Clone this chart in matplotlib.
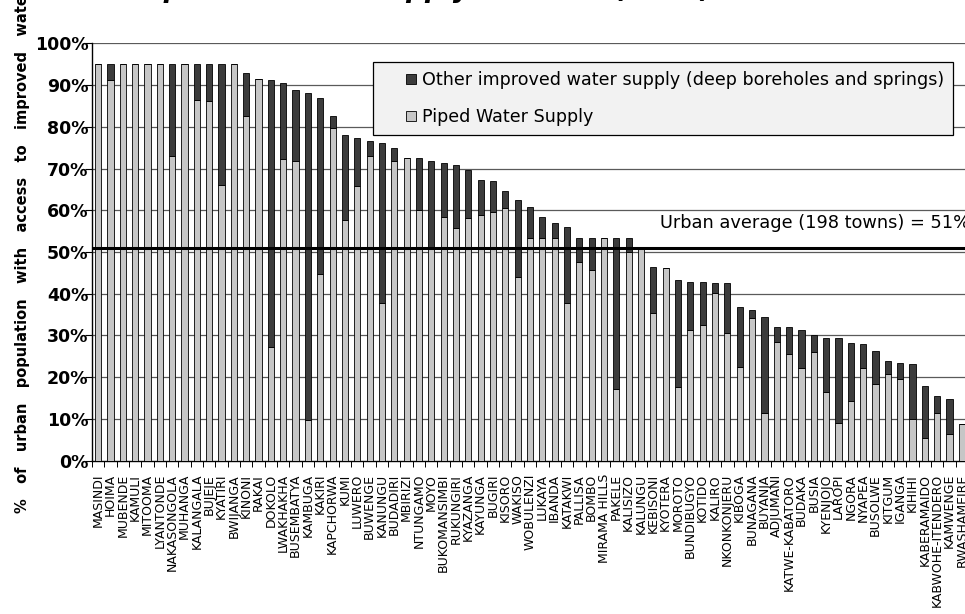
import matplotlib
matplotlib.use("Agg")
import matplotlib.pyplot as plt
from matplotlib.patches import Rectangle
from matplotlib.legend_handler import HandlerPatch
import numpy as np

towns = ["MASINDI", "HOIMA", "MUBENDE", "KAMULI", "MITOOMA", "LYANTONDE",
         "NAKASONGOLA", "MUHANGA", "KALANGALA", "BUJEJE", "KYATIRI", "BWIJANGA",
         "KINONI", "RAKAI", "DOKOLO", "LWAKHAKHA", "BUSEMBATYA", "KAMBUGA",
         "KAKIRI", "KAPCHORWA", "KUMI", "LUWERO", "BUWENGE", "KANUNGU",
         "BUDADIRI", "MBIRIZI", "NTUNGAMO", "MOYO", "BUKOMANSIMBI", "RUKUNGIRI",
         "KYAZANGA", "KAYUNGA", "BUGIRI", "KISORO", "WAKISO", "WOBULENZI",
         "LUKAYA", "IBANDA", "KATAKWI", "PALLISA", "BOMBO", "MIRAMA HILLS",
         "PAKELE", "KALISIZO", "KALUNGU", "KEBISONI", "KYOTERA", "MOROTO",
         "BUNDIBUGYO", "KOTIDO", "KALIRO", "NKONKONJERU", "KIBOGA", "BUNAGANA",
         "BUYANJA", "ADJUMANI", "KATWE-KABATORO", "BUDAKA", "BUSIA", "KYENJOJO",
         "LAROPI", "NGORA", "NYAPEA", "BUSOLWE", "KITGUM", "IGANGA", "KIHIHI",
         "KABERAMAIDO", "KABWOHE-ITENDERO", "KAMWENGE", "RWASHAMEIRE"]

piped = [95, 91.3, 95, 95, 95, 95, 72.9, 95, 86.5, 86.1, 66.1, 95,
         82.5, 91.4, 27.2, 72.3, 71.7,
         9.8, 44.7, 79.7, 57.7, 65.9, 72.9, 37.9, 71.7, 72.5, 60.1, 50.9,
         58.5, 55.7, 58.1, 58.9, 59.7, 60.5, 44.1,
         53.3, 53.3, 53.3, 37.7, 47.5, 45.7, 53.3, 17.1, 50.1, 51.3,
         35.3, 46.1, 17.7, 31.3, 32.5, 40.1, 30.5,
         22.5, 34.3, 11.5, 28.5, 25.5, 22.3, 26.1, 16.5, 9.0, 14.3,
         22.3, 18.3, 20.7, 19.5, 9.9, 5.5, 11.5, 6.3, 8.7]

other = [0, 3.7, 0, 0, 0, 0, 22.1, 0, 8.5, 8.9, 28.9, 0,
         10.4, 0, 64.1, 18.2, 17.2,
         78.3, 42.2, 2.8, 20.4, 11.4, 3.6, 38.2, 3.2, 0, 12.4, 20.8,
         12.8, 15.2, 11.6, 8.4, 7.2, 4.0, 18.4,
         7.6, 5.2, 3.6, 18.4, 5.8, 7.6, 0, 36.2, 3.2, 0,
         11.2, 0, 25.6, 11.6, 10.4, 2.4, 12.0,
         14.4, 1.8, 23.0, 3.6, 6.6, 9.0, 4.0, 13.0, 20.5, 14.0,
         5.6, 8.1, 3.3, 4.0, 13.2, 12.4, 4.0, 8.6, 0]

urban_average = 51
y_ticks = [0, 10, 20, 30, 40, 50, 60, 70, 80, 90, 100]
y_tick_labels = ["0%", "10%", "20%", "30%", "40%", "50%", "60%", "70%", "80%", "90%", "100%"]

W, H = 965, 614
fig = plt.figure(figsize=(W / 100, H / 100), dpi=100)
ax = fig.add_axes([92 / W, 1 - 460.7 / H, 876 / W, (460.7 - 43.3) / H])

x = np.arange(len(towns))
light = "#c6c6c6"
dark = "#3c3c3c"
bw = 0.5
ax.bar(x, piped, width=bw, color=light, edgecolor="black", linewidth=0.6, zorder=3)
ax.bar(x, other, width=bw, bottom=piped, color=dark, edgecolor="black",
       linewidth=0.6, zorder=3)

ax.set_xlim(-0.5, len(towns) - 0.5)
ax.set_ylim(0, 100)

for yv in y_ticks[1:]:
    ax.axhline(yv, color="#5a5a5a", linewidth=0.9, zorder=1)
ax.axhline(urban_average, color="black", linewidth=2.2, zorder=5)

ax.set_yticks(y_ticks)
ax.set_yticklabels(y_tick_labels, fontsize=12.5, fontweight="bold",
                   family="DejaVu Sans")
ax.tick_params(axis="y", direction="out", length=5, width=0.8, pad=-2.5)

ax.set_xticks(x)
ax.set_xticklabels(towns, rotation=90, fontsize=9, family="DejaVu Sans")
ax.tick_params(axis="x", which="major", length=0, pad=9.5)
ax.set_xticks(np.arange(len(towns) + 1) - 0.5, minor=True)
ax.tick_params(axis="x", which="minor", direction="out", length=4, width=0.7)

for s in ["top", "right"]:
    ax.spines[s].set_visible(False)
ax.spines["left"].set_linewidth(1.0)
ax.spines["bottom"].set_linewidth(1.0)

ax.text(660 / W, 1 - 223 / H, "Urban average (198 towns) = 51%",
        transform=fig.transFigure, ha="left", va="center", fontsize=12.8,
        family="DejaVu Sans", zorder=6)


def square_handle(legend, orig_handle, xdescent, ydescent, width, height, fontsize):
    sq = 10 * 72 / 100
    return Rectangle((-xdescent + width - sq, -ydescent + (height - sq) / 2), sq, sq)


h_other = Rectangle((0, 0), 1, 1, facecolor=dark, edgecolor="black", linewidth=0.6)
h_piped = Rectangle((0, 0), 1, 1, facecolor=light, edgecolor="black", linewidth=0.6)
hm = {h_other: HandlerPatch(patch_func=square_handle),
      h_piped: HandlerPatch(patch_func=square_handle)}
leg = fig.legend([h_other, h_piped],
                 ["Other improved water supply (deep boreholes and springs)",
                  "Piped Water Supply"],
                 handler_map=hm,
                 loc="upper left", bbox_to_anchor=(373 / W, 1 - 62 / H),
                 borderaxespad=0, prop={"family": "DejaVu Sans", "size": 12.6},
                 borderpad=0.5, labelspacing=1.1, handlelength=1.95,
                 handleheight=0.7, handletextpad=0.33,
                 fancybox=False, frameon=True, framealpha=1)
leg.get_frame().set_facecolor("#f2f2f2")
leg.get_frame().set_edgecolor("black")
leg.get_frame().set_linewidth(0.9)

fig.text(23 / W, 1 - 513 / H,
         "%   of   urban   population   with   access   to   improved   water   supply",
         rotation=90, ha="center", va="bottom", fontsize=10.5, fontweight="bold",
         family="DejaVu Sans")

fig.text(-21 / W, 1 + 3.5 / H,
         "Access to improved water supply in towns (2005)",
         ha="left", va="baseline", fontsize=19, fontweight="bold", fontstyle="italic",
         family="DejaVu Sans")

fig.savefig("out.png", dpi=100)
